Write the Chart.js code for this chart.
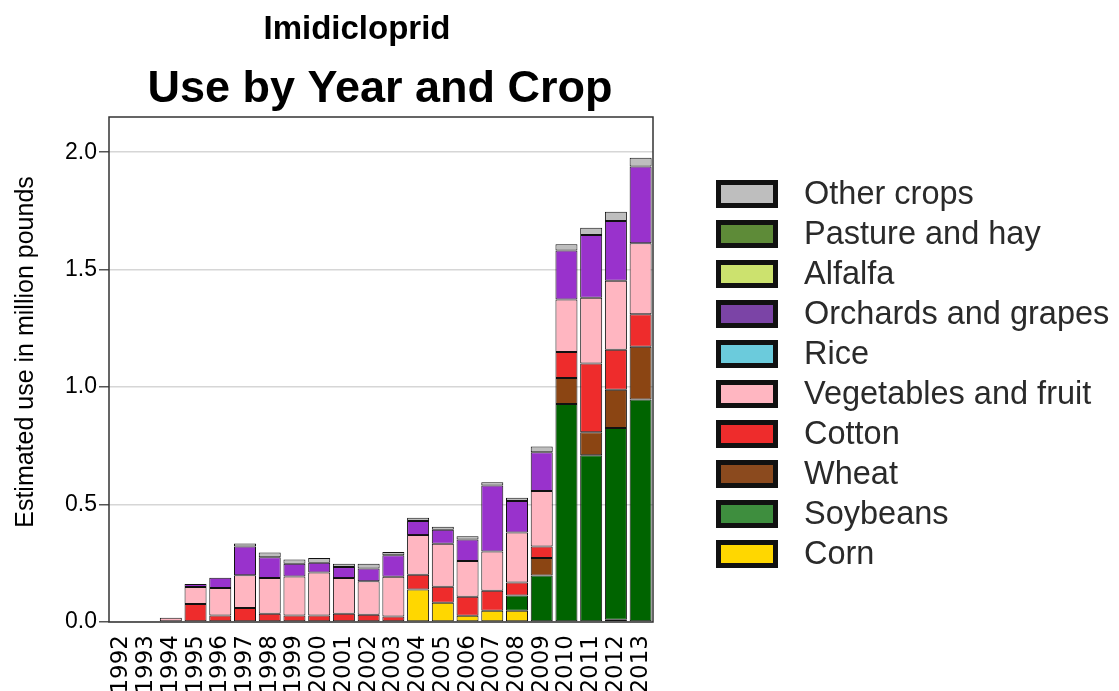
<!DOCTYPE html>
<html>
<head>
<meta charset="utf-8">
<script src="https://cdn.jsdelivr.net/npm/chart.js"></script>
<style>
  html, body { margin: 0; padding: 0; background: #fff; }
</style>
</head>
<body>
<canvas id="chart" width="1119" height="691"></canvas>
<script>
const years = ["1992","1993","1994","1995","1996","1997","1998","1999","2000","2001","2002",
               "2003","2004","2005","2006","2007","2008","2009","2010","2011","2012","2013"];

// million pounds
const corn     = [0,0,0,0,0,0,0,0,0,0,0,0,0.138,0.082,0.027,0.048,0.048,0,0,0,0.010,0];
const soybeans = [0,0,0,0,0,0,0,0,0,0,0,0,0,0,0,0,0.065,0.198,0.928,0.710,0.816,0.947];
const wheat    = [0,0,0,0,0,0,0,0,0,0,0,0,0,0,0,0,0,0.074,0.111,0.098,0.163,0.225];
const cotton   = [0,0,0,0.077,0.028,0.060,0.035,0.028,0.028,0.035,0.031,0.023,0.063,0.068,0.080,0.085,0.055,0.049,0.111,0.293,0.170,0.138];
const vegFruit = [0,0,0.018,0.072,0.117,0.139,0.152,0.166,0.183,0.152,0.142,0.170,0.169,0.183,0.153,0.167,0.213,0.237,0.223,0.280,0.294,0.302];
const rice     = [0,0,0,0,0,0,0,0,0,0,0,0,0,0,0,0,0,0,0,0,0,0];
const orchards = [0,0,0,0.013,0.043,0.122,0.089,0.054,0.041,0.047,0.055,0.091,0.060,0.060,0.091,0.281,0.134,0.165,0.209,0.267,0.254,0.327];
const alfalfa  = [0,0,0,0,0,0,0,0,0,0,0,0,0,0,0,0,0,0,0,0,0,0];
const pasture  = [0,0,0,0,0,0,0,0,0,0,0,0,0,0,0,0,0,0,0,0,0,0];
const other    = [0,0,0,0,0,0.013,0.020,0.018,0.020,0.014,0.020,0.014,0.014,0.013,0.014,0.014,0.014,0.024,0.026,0.031,0.040,0.038];

const cropNames = ["Corn","Soybeans","Wheat","Cotton","Vegetables and fruit","Rice",
                   "Orchards and grapes","Alfalfa","Pasture and hay","Other crops"];
const cropValues = [corn, soybeans, wheat, cotton, vegFruit, rice, orchards, alfalfa, pasture, other];

const barColors    = ["#FFD700","#006400","#8B4513","#EE2C2C","#FFB6C1","#6BCBDC","#9932CC","#CCE26E","#6B8E23","#BEBEBE"];
const legendColors = ["#FFD700","#3E8E3E","#8B4A1E","#EE2C2C","#FFB6C1","#6BCBDC","#7B44A6","#CCE26E","#5E8B38","#BEBEBE"];

const FONT = '"Liberation Sans", Arial, sans-serif';

// titles, y title, frame and the legend box list
const decor = {
  id: 'decor',
  afterDraw(chart) {
    const { ctx, chartArea: a } = chart;
    ctx.save();

    ctx.strokeStyle = '#333';
    ctx.lineWidth = 1.5;
    ctx.strokeRect(a.left, a.top, a.right - a.left, a.bottom - a.top);

    ctx.fillStyle = '#000';
    ctx.textAlign = 'center';
    ctx.textBaseline = 'alphabetic';
    ctx.font = 'bold 33px ' + FONT;
    ctx.fillText('Imidicloprid', 357, 39);
    ctx.font = 'bold 45px ' + FONT;
    ctx.fillText('Use by Year and Crop', 380, 102);

    ctx.save();
    ctx.translate(33, 352);
    ctx.rotate(-Math.PI / 2);
    ctx.font = '25px ' + FONT;
    ctx.fillText('Estimated use in million pounds', 0, 0);
    ctx.restore();

    // legend, top entry is the last dataset
    ctx.textAlign = 'left';
    ctx.font = '32.5px ' + FONT;
    const lx = a.right + 63;
    const n = cropNames.length;
    for (let i = 0; i < n; i++) {
      const k = n - 1 - i;
      const top = 180 + 40 * i;
      ctx.fillStyle = legendColors[k];
      ctx.fillRect(lx, top, 62, 28);
      ctx.lineWidth = 5;
      ctx.strokeStyle = '#111';
      ctx.strokeRect(lx + 2.5, top + 2.5, 57, 23);
      ctx.fillStyle = '#2a2a2a';
      ctx.fillText(cropNames[k], lx + 88, top + 24);
    }
    ctx.restore();
  }
};

new Chart(document.getElementById('chart'), {
  type: 'bar',
  data: {
    labels: years,
    datasets: cropNames.map((name, i) => ({
      label: name,
      // empty segments are left out so they draw no border
      data: cropValues[i].map(v => v === 0 ? null : v),
      backgroundColor: barColors[i],
      borderColor: '#111',
      borderWidth: 1,
      borderSkipped: false,
      barPercentage: 0.89,
      categoryPercentage: 1
    }))
  },
  options: {
    responsive: false,
    animation: false,
    layout: { padding: { top: 117, right: 466, left: 0, bottom: 0 } },
    plugins: {
      legend: { display: false },
      tooltip: { enabled: false }
    },
    scales: {
      x: {
        stacked: true,
        grid: { display: false },
        border: { display: false },
        ticks: {
          minRotation: 90, maxRotation: 90, autoSkip: false, padding: 5,
          color: '#000', font: { family: '"DejaVu Sans"', size: 23 }
        },
        afterFit(scale) { scale.height = 69; }
      },
      y: {
        stacked: true,
        min: 0,
        max: 2.15,
        border: { display: false },
        grid: { color: '#d6d6d6', lineWidth: 1.5, tickLength: 10, tickColor: '#555' },
        ticks: {
          stepSize: 0.5, includeBounds: false, padding: 2,
          color: '#000', font: { family: FONT, size: 23 },
          callback: v => v.toFixed(1)
        },
        afterFit(scale) { scale.width = 109; }
      }
    }
  },
  plugins: [decor]
});
</script>
</body>
</html>
